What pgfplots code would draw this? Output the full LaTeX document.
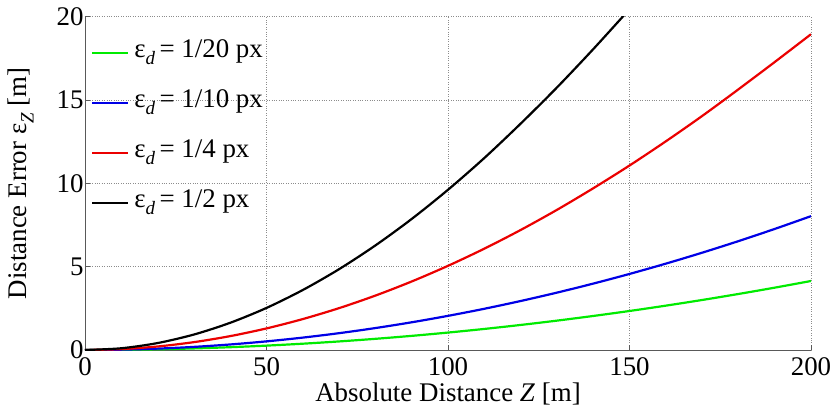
\documentclass[border=0pt]{standalone}
\usepackage{pgfplots}
\pgfplotsset{compat=1.18}
\usepackage{fontspec}
\setmainfont{Liberation Serif}
\definecolor{cgreen}{RGB}{0,235,0}
\definecolor{cblue}{RGB}{0,0,230}
\definecolor{cred}{RGB}{235,0,0}
\newcommand{\sub}[1]{\raisebox{-0.55ex}{\fontsize{19}{22}\selectfont\itshape #1}}
\begin{document}
\begin{tikzpicture}
\begin{axis}[
  scale only axis,
  width=726bp, height=333.3bp,
  xmin=0, xmax=200, ymin=0, ymax=20,
  xtick={0,50,100,150,200},
  ytick={0,5,10,15,20},
  axis lines=left,
  axis line style={-, draw=black!65, line width=0.8bp},
  tick align=inside,
  major tick length=5bp,
  tick style={black!65, line width=0.6bp},
  grid=major,
  major grid style={dotted, black!45, line width=0.6bp},
  /pgf/number format/assume math mode=true,
  tick label style={font=\fontsize{27}{31}\selectfont},
  label style={font=\fontsize{27}{31}\selectfont},
  xticklabel style={yshift=-4bp},
  yticklabel style={xshift=2bp},
  xlabel={Absolute Distance \textit{Z} [m]},
  ylabel={Distance Error ε\sub{Z} [m]},
  xlabel style={yshift=0bp},
  ylabel style={yshift=16bp},
  legend cell align=left,
  legend style={draw=none, fill=none, at={(rel axis cs:0.004,0.94)}, anchor=north west,
    font=\fontsize{27}{31}\selectfont,
    nodes={inner sep=1bp, text height=18bp, text depth=8bp},
    row sep=22bp,
    /tikz/every odd column/.append style={column sep=4bp}},
  legend image code/.code={\draw[#1] (0bp,0bp) -- (36bp,0bp);},
  every axis plot/.append style={line width=2.2bp, smooth},
]
\addplot[cgreen] coordinates {(0,0) (10,0.011) (20,0.042) (30,0.095) (40,0.168) (50,0.263) (60,0.378) (70,0.514) (80,0.671) (90,0.848) (100,1.046) (110,1.264) (120,1.503) (130,1.762) (140,2.042) (150,2.341) (160,2.661) (170,3.001) (180,3.361) (190,3.741) (200,4.141)};
\addlegendentry{ε\sub{d}\,= 1/20 px}
\addplot[cblue] coordinates {(0,0) (10,0.021) (20,0.083) (30,0.187) (40,0.332) (50,0.518) (60,0.744) (70,1.010) (80,1.317) (90,1.663) (100,2.049) (110,2.474) (120,2.939) (130,3.442) (140,3.984) (150,4.564) (160,5.182) (170,5.838) (180,6.532) (190,7.264) (200,8.032)};
\addlegendentry{ε\sub{d}\,= 1/10 px}
\addplot[cred] coordinates {(0,0) (10,0.053) (20,0.211) (30,0.471) (40,0.833) (50,1.295) (60,1.856) (70,2.513) (80,3.265) (90,4.112) (100,5.051) (110,6.080) (120,7.200) (130,8.408) (140,9.703) (150,11.07) (160,12.52) (170,14.04) (180,15.64) (190,17.28) (200,18.95)};
\addlegendentry{ε\sub{d}\,= 1/4 px}
\addplot[black] coordinates {(0,0) (10,0.105) (20,0.417) (30,0.928) (40,1.633) (50,2.525) (60,3.600) (70,4.851) (80,6.275) (90,7.864) (100,9.615) (110,11.52) (120,13.58) (130,15.75) (140,18.05) (150,20.45)};
\addlegendentry{ε\sub{d}\,= 1/2 px}
\coordinate (ll) at (rel axis cs:0,0);
\end{axis}
\pgfresetboundingbox
\path (ll) ++(-85bp,-64bp) rectangle ++(835bp,414bp);
\end{tikzpicture}
\end{document}
